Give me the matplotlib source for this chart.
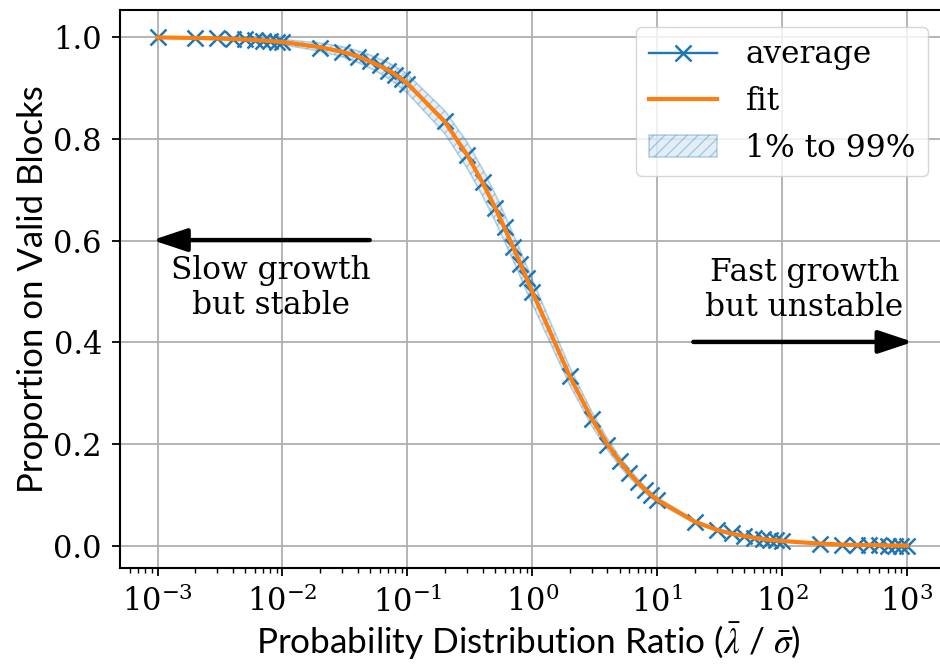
import numpy as np
import matplotlib
matplotlib.use("Agg")
import matplotlib.pyplot as plt

# ---------------- data ----------------
ratio = [0.001, 0.002, 0.003, 0.004, 0.005, 0.006, 0.007, 0.008, 0.009,
         0.01, 0.02, 0.03, 0.04, 0.05, 0.06, 0.07, 0.08, 0.09,
         0.1, 0.2, 0.3, 0.4, 0.5, 0.6, 0.7, 0.8, 0.9,
         1, 2, 3, 4, 5, 6, 7, 8, 9,
         10, 20, 30, 40, 50, 60, 70, 80, 90,
         100, 200, 300, 400, 500, 600, 700, 800, 900, 1000]

average = [0.999, 0.998, 0.997, 0.996, 0.995, 0.994, 0.993, 0.992, 0.991,
           0.990, 0.979, 0.970, 0.961, 0.952, 0.944, 0.934, 0.925, 0.917,
           0.908, 0.834, 0.768, 0.715, 0.665, 0.626, 0.587, 0.555, 0.527,
           0.500, 0.334, 0.250, 0.199, 0.167, 0.143, 0.125, 0.111, 0.100,
           0.091, 0.048, 0.032, 0.025, 0.020, 0.016, 0.014, 0.012, 0.011,
           0.010, 0.005, 0.003, 0.003, 0.002, 0.002, 0.001, 0.001, 0.001, 0.001]

fit = [0.999, 0.998, 0.997, 0.996, 0.995, 0.994, 0.993, 0.992, 0.991,
       0.990, 0.980, 0.971, 0.962, 0.952, 0.943, 0.935, 0.926, 0.917,
       0.909, 0.833, 0.769, 0.714, 0.667, 0.625, 0.588, 0.556, 0.526,
       0.500, 0.333, 0.250, 0.200, 0.167, 0.143, 0.125, 0.111, 0.100,
       0.091, 0.048, 0.032, 0.024, 0.020, 0.016, 0.014, 0.012, 0.011,
       0.010, 0.005, 0.003, 0.002, 0.002, 0.002, 0.001, 0.001, 0.001, 0.001]

low_1 = [0.999, 0.997, 0.995, 0.994, 0.992, 0.991, 0.989, 0.988, 0.986,
         0.985, 0.972, 0.961, 0.950, 0.939, 0.929, 0.919, 0.909, 0.899,
         0.890, 0.810, 0.743, 0.688, 0.640, 0.598, 0.562, 0.530, 0.501,
         0.476, 0.316, 0.236, 0.189, 0.157, 0.135, 0.118, 0.105, 0.094,
         0.085, 0.045, 0.030, 0.022, 0.018, 0.015, 0.013, 0.011, 0.010,
         0.009, 0.004, 0.003, 0.002, 0.001, 0.001, 0.001, 0.001, 0.000, 0.000]

high_99 = [1.000, 0.999, 0.999, 0.998, 0.998, 0.997, 0.997, 0.996, 0.996,
           0.995, 0.988, 0.981, 0.973, 0.965, 0.957, 0.950, 0.942, 0.935,
           0.927, 0.855, 0.794, 0.741, 0.694, 0.652, 0.614, 0.581, 0.551,
           0.524, 0.351, 0.264, 0.211, 0.176, 0.151, 0.132, 0.117, 0.106,
           0.096, 0.051, 0.034, 0.026, 0.021, 0.017, 0.015, 0.013, 0.012,
           0.011, 0.006, 0.004, 0.003, 0.003, 0.002, 0.002, 0.002, 0.002, 0.002]

x_ticks = [1e-3, 1e-2, 1e-1, 1e0, 1e1, 1e2, 1e3]
y_ticks = [0.0, 0.2, 0.4, 0.6, 0.8, 1.0]

# ---------------- figure ----------------
plt.rcParams['font.family'] = ['DejaVu Serif']
plt.rcParams['mathtext.fontset'] = 'dejavuserif'

fig = plt.figure(figsize=(9.4, 6.64), dpi=100)
ax = fig.add_axes([0.1277, 0.1446, 0.877, 0.8404])

ax.fill_between(ratio, low_1, high_99, facecolor=(0.12, 0.47, 0.71, 0.12),
                edgecolor=(0.12, 0.47, 0.71, 0.3), hatch='///', linewidth=1.2,
                label='1% to 99%', zorder=2)
ax.plot(ratio, average, color='C0', marker='x', markersize=11, markeredgewidth=1.8,
        linewidth=1.7, label='average', zorder=3)
ax.plot(ratio, fit, color='C1', linewidth=3, label='fit', zorder=4)

ax.set_xscale('log')
ax.set_xlim(10 ** -3.3, 10 ** 3.3)
ax.set_xticks(x_ticks)
ax.set_ylim(-0.043, 1.053)
ax.set_yticks(y_ticks)
ax.set_yticklabels([f"{v:.1f}" for v in y_ticks])
ax.grid(True, which='major', color='#b0b0b0', linewidth=1.3)
ax.tick_params(axis='both', which='major', labelsize=22, length=6, width=1.3, pad=7)
ax.tick_params(axis='x', which='minor', length=3.5, width=1.0)
ax.spines['right'].set_visible(False)
for s in ax.spines.values():
    s.set_linewidth(1.5)

ax.set_ylabel('Proportion on Valid Blocks', fontsize=25, family='Lato')
ax.set_xlabel(r'Probability Distribution Ratio ($\bar{\lambda}$ / $\bar{\sigma}$)',
              fontsize=25.3, family='Lato', math_fontfamily='stix')
ax.yaxis.set_label_coords(-0.086, 0.5)
ax.xaxis.set_label_coords(0.495, -0.095)

# arrows and annotations
arrow_style = '-|>,head_length=0.6,head_width=0.2'
ax.annotate('', xy=(0.00091, 0.601), xytext=(0.05, 0.601),
            arrowprops=dict(arrowstyle=arrow_style, lw=3.2, color='black',
                            mutation_scale=35, shrinkA=0, shrinkB=0))
ax.annotate('', xy=(1117, 0.401), xytext=(19.5, 0.401),
            arrowprops=dict(arrowstyle=arrow_style, lw=3.2, color='black',
                            mutation_scale=35, shrinkA=0, shrinkB=0))
ax.text(0.0081, 0.507, 'Slow growth\nbut stable', fontsize=22.5, ha='center',
        va='center', multialignment='center', linespacing=1.15)
ax.text(151, 0.503, 'Fast growth\nbut unstable', fontsize=22.5, ha='center',
        va='center', multialignment='center', linespacing=1.15)

handles, labels = ax.get_legend_handles_labels()
order = [labels.index('average'), labels.index('fit'), labels.index('1% to 99%')]
ax.legend([handles[i] for i in order], [labels[i] for i in order],
          loc='upper right', bbox_to_anchor=(0.9806, 0.9695), borderaxespad=0,
          fontsize=22.5, framealpha=0.8, handlelength=2.2, borderpad=0.4,
          labelspacing=0.5, handletextpad=0.9)

fig.savefig('out.png', dpi=100)
